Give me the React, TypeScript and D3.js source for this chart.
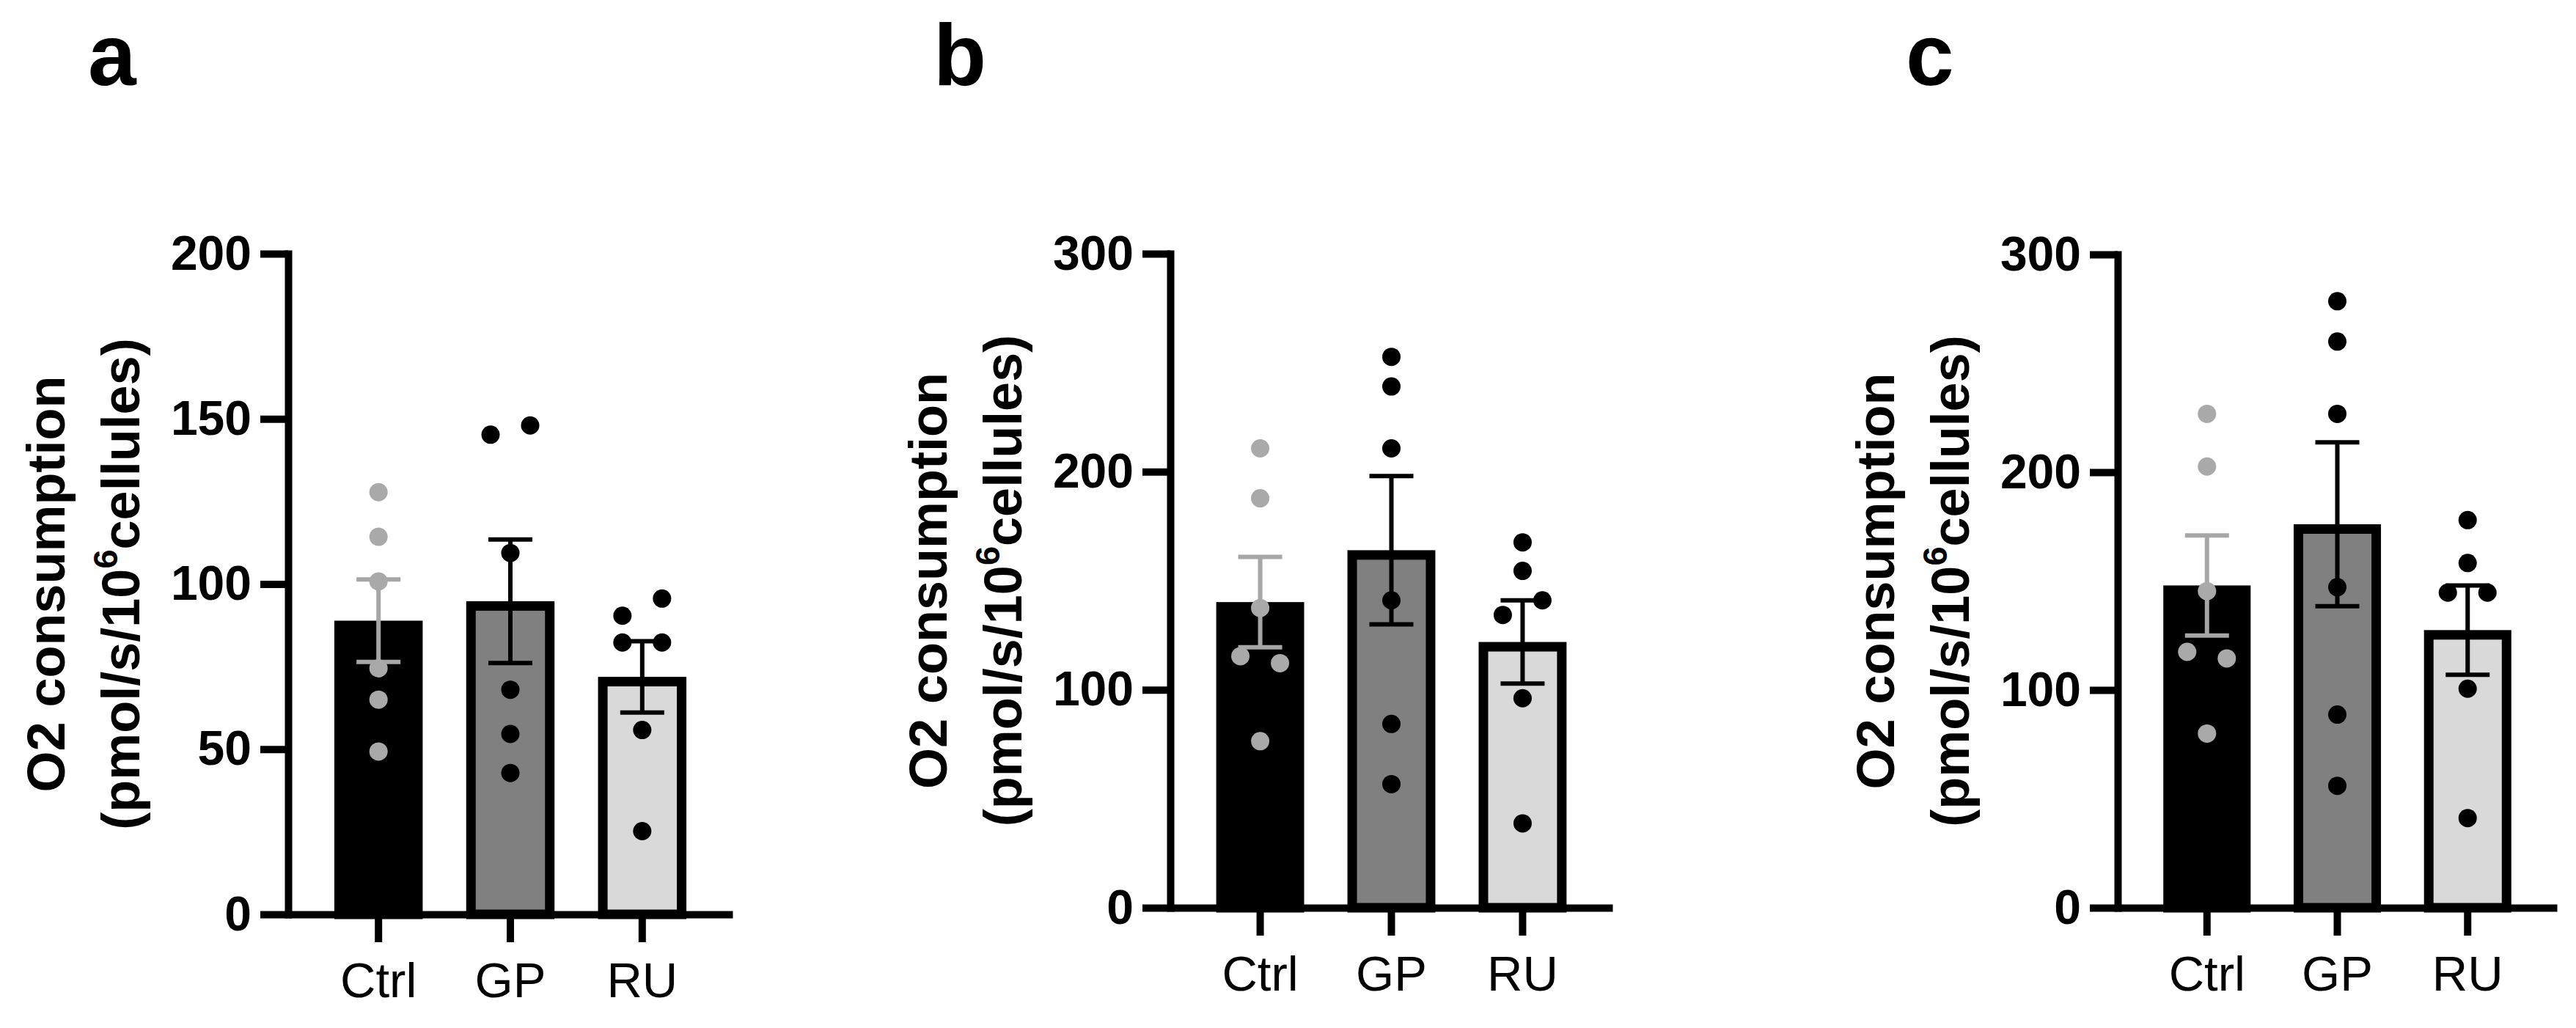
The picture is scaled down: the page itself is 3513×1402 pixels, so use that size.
import React, {Component} from 'react';
import * as d3 from "d3"

// categories
const groups = ["Ctrl", "GP", "RU"]

// panel a : individual values per group
const aCtrl = [127.8, 114.3, 100.8, 74.5, 65.0, 49.3]
const aGP = [145.2, 148.0, 109.4, 68.0, 54.6, 42.8]
const aRU = [90.4, 95.6, 82.3, 82.3, 55.8, 25.2]
const aMeans = [88.9, 94.8, 71.9]
const aSem = [12.5, 18.7, 10.8]
const aTicks = [0, 50, 100, 150, 200]

// panel b
const bCtrl = [210.7, 187.8, 137.5, 115.4, 112.2, 76.4]
const bGP = [252.7, 239.1, 210.7, 141.0, 84.3, 56.7]
const bRU = [167.6, 154.5, 134.3, 141.0, 96.1, 38.7]
const bMeans = [140.2, 164.0, 121.9]
const bSem = [20.7, 34.0, 19.1]
const bTicks = [0, 100, 200, 300]

// panel c
const cCtrl = [226.8, 202.6, 145.4, 117.5, 114.5, 80.0]
const cGP = [278.5, 260.0, 226.8, 147.2, 88.7, 56.0]
const cRU = [178.0, 158.3, 144.7, 144.7, 100.6, 41.2]
const cMeans = [148.0, 176.1, 127.5]
const cSem = [23.0, 37.6, 20.5]
const cTicks = [0, 100, 200, 300]

const panels = [
  {letter: "a", points: [aCtrl, aGP, aRU], means: aMeans, sem: aSem, ticks: aTicks},
  {letter: "b", points: [bCtrl, bGP, bRU], means: bMeans, sem: bSem, ticks: bTicks},
  {letter: "c", points: [cCtrl, cGP, cRU], means: cMeans, sem: cSem, ticks: cTicks},
]

interface AppProps {}
interface AppState {}

class App extends Component<AppProps, AppState> {
  public constructor(props: AppProps) {
    super(props)
  }

  renderFigure() {
    const width = 3513
    const height = 1402
    const font = "'Liberation Sans', Arial, Helvetica, sans-serif"

    // where each panel sits on the page
    const frames = [
      {axisX: 393, axisEnd: 999, y0: 1247, yTop: 346, letterX: 120},
      {axisX: 1596, axisEnd: 2199, y0: 1238, yTop: 346, letterX: 1273},
      {axisX: 2888, axisEnd: 3487, y0: 1238, yTop: 347, letterX: 2599},
    ]
    const barFill = ["#000000", "#808080", "#d9d9d9"]
    const dotFill = ["#a9a9a9", "#000000", "#000000"]
    const errColor = ["#a6a6a6", "#000000", "#000000"]
    const barStroke = 13
    const dotR = 12.5
    const jitter = 27

    d3.select("#figure").selectAll("*").remove()
    const svg = d3.select("#figure").append("svg")
      .attr("width", width).attr("height", height)
      .style("display", "block")
      .style("background", "#fff")
      .attr("font-family", font)

    panels.forEach((p, pi) => {
      const f = frames[pi]
      const g = svg.append("g")

      const y = d3.scaleLinear()
        .domain([0, p.ticks[p.ticks.length - 1]])
        .range([f.y0, f.yTop])

      const x = d3.scaleBand()
        .domain(groups)
        .range([f.axisX, f.axisEnd])
        .paddingInner(0.33)
        .paddingOuter(0.35)
      const bw = x.bandwidth()

      // bars
      g.append("g").selectAll("rect")
        .data(groups)
        .join("rect")
          .attr("x", d => (x(d) as number) + barStroke / 2)
          .attr("y", (d, i) => y(p.means[i]) + barStroke / 2)
          .attr("width", bw - barStroke)
          .attr("height", (d, i) => f.y0 - y(p.means[i]) - barStroke / 2)
          .attr("fill", (d, i) => barFill[i])
          .attr("stroke", "#000")
          .attr("stroke-width", barStroke)

      // error bars (mean +/- SEM)
      groups.forEach((grp, i) => {
        const cx = (x(grp) as number) + bw / 2
        const lo = y(p.means[i] - p.sem[i])
        const hi = y(p.means[i] + p.sem[i])
        const eb = g.append("g")
          .attr("stroke", errColor[i])
          .attr("stroke-width", 6)
        eb.append("line").attr("x1", cx).attr("x2", cx).attr("y1", lo).attr("y2", hi)
        eb.append("line").attr("x1", cx - 30).attr("x2", cx + 30).attr("y1", hi).attr("y2", hi)
        eb.append("line").attr("x1", cx - 30).attr("x2", cx + 30).attr("y1", lo).attr("y2", lo)
      })

      // individual points, spread sideways when they would overlap
      groups.forEach((grp, i) => {
        const cx = (x(grp) as number) + bw / 2
        const vals = p.points[i].map((v, k) => ({v, k}))
        const sorted = vals.slice().sort((a, b) => b.v - a.v)
        const clusters: any[] = []
        sorted.forEach(d => {
          const last = clusters[clusters.length - 1]
          if (last && y(d.v) - y(last[last.length - 1].v) < 30) last.push(d)
          else clusters.push([d])
        })
        const placed: any[] = []
        clusters.forEach(cl => {
          cl.sort((a: any, b: any) => a.k - b.k)
          cl.forEach((d: any, j: number) => {
            placed.push({v: d.v, dx: (j - (cl.length - 1) / 2) * 2 * jitter})
          })
        })
        g.append("g").selectAll("circle")
          .data(placed)
          .join("circle")
            .attr("cx", d => cx + d.dx)
            .attr("cy", d => y(d.v))
            .attr("r", dotR)
            .attr("fill", dotFill[i])
      })

      // y axis
      const yAxis = g.append("g")
        .attr("transform", `translate(${f.axisX},0)`)
        .call(d3.axisLeft(y).tickValues(p.ticks).tickSize(38).tickSizeOuter(0).tickPadding(12).tickFormat(d3.format("d")))
      yAxis.attr("font-family", font).attr("font-size", 66).attr("font-weight", "bold")
      yAxis.select(".domain").attr("stroke", "#000").attr("stroke-width", 10).attr("stroke-linecap", "square")
      yAxis.selectAll(".tick line").attr("stroke", "#000").attr("stroke-width", 10)
      yAxis.selectAll(".tick text").attr("fill", "#000")

      // x axis
      const xAxis = g.append("g")
        .attr("transform", `translate(0,${f.y0})`)
        .call(d3.axisBottom(x).tickSize(38).tickSizeOuter(0).tickPadding(27))
      xAxis.attr("font-family", font).attr("font-size", 67).attr("font-weight", "normal")
      xAxis.select(".domain").attr("stroke", "#000").attr("stroke-width", 10)
      xAxis.selectAll(".tick line").attr("stroke", "#000").attr("stroke-width", 10)
      xAxis.selectAll(".tick text").attr("fill", "#000")

      // axis title, two lines
      const yMid = (f.y0 + f.yTop) / 2
      g.append("text")
        .attr("transform", `translate(${f.axisX - 305},${yMid}) rotate(-90)`)
        .attr("text-anchor", "middle")
        .attr("font-weight", "bold")
        .attr("font-size", 72)
        .attr("fill", "#000")
        .text("O2 consumption")
      const t2 = g.append("text")
        .attr("transform", `translate(${f.axisX - 203},${yMid}) rotate(-90)`)
        .attr("text-anchor", "middle")
        .attr("font-weight", "bold")
        .attr("font-size", 72)
        .attr("fill", "#000")
      t2.append("tspan").text("(pmol/s/10")
      t2.append("tspan").attr("font-size", 47).attr("dy", -30).text("6")
      t2.append("tspan").attr("dy", 30).text("cellules)")

      // panel letter
      svg.append("text")
        .attr("x", f.letterX)
        .attr("y", 116)
        .attr("font-weight", "bold")
        .attr("font-size", 118)
        .attr("fill", "#000")
        .text(p.letter)
    })
  }

  componentDidMount() {
    this.renderFigure()
  }

  public render(): JSX.Element {
    return (
      <div
        id='figure'
        style={{position: 'absolute', left: 0, top: 0, width: 3513, height: 1402, background: '#fff'}}
      >
      </div>
    )
  }
}
export default App;
